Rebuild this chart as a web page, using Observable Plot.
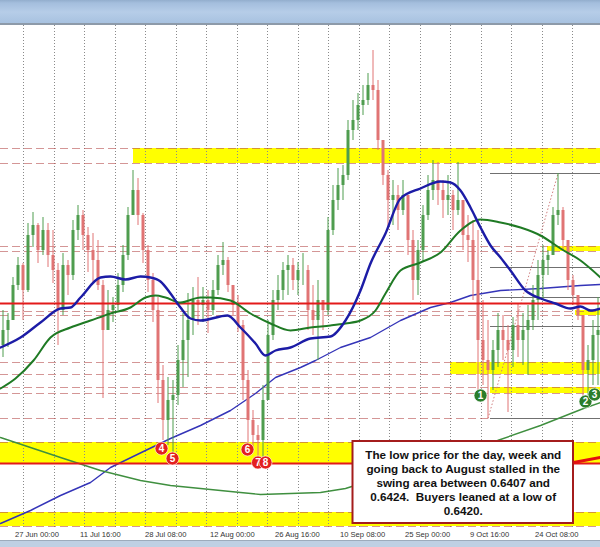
<!DOCTYPE html>
<html><head><meta charset="utf-8">
<script src="https://cdn.jsdelivr.net/npm/d3@7"></script>
<script src="https://cdn.jsdelivr.net/npm/@observablehq/plot@0.6"></script>
<style>
html,body{margin:0;padding:0;background:#fff;}
#top{height:23px;background-color:#a9c3df;background-image:linear-gradient(#93aecd 0,#a4bedd 3px,#b6cde8 12px,#a8c2e0 23px);border-bottom:2px solid #8d9aa9;}
#bot{height:6px;background:#bfd0e3;border-top:1px solid #9dabbb;}
#chart svg{display:block;}
</style></head><body>
<div id="top"></div>
<div id="chart"></div>
<div id="bot"></div>
<script>
// ---- price bars (4H) ----
const firstOpen = 0.64450;
const high = [0.64625,0.64610,0.64790,0.64890,0.64860,0.65060,0.65115,0.65060,0.65090,0.65060,
0.65025,0.64860,0.64910,0.64875,0.65075,0.65150,0.65125,0.65040,0.65010,0.64975,
0.64775,0.64725,0.64690,0.64810,0.64950,0.65140,0.65325,0.65285,0.65110,0.64950,
0.64810,0.64690,0.64350,0.64290,0.64275,0.64450,0.64610,0.64710,0.64740,0.64790,
0.64740,0.64725,0.64775,0.64900,0.64965,0.64890,0.64750,0.64700,0.64575,0.64325,
0.64125,0.64050,0.64250,0.64575,0.64725,0.64800,0.64865,0.64900,0.64885,0.64865,
0.64910,0.64850,0.64750,0.64775,0.64675,0.65090,0.65250,0.65335,0.65350,0.65575,
0.65675,0.65710,0.65750,0.65810,0.65925,0.65775,0.65475,0.65325,0.65275,0.65250,
0.65275,0.65175,0.65025,0.64975,0.65150,0.65300,0.65375,0.65365,0.65275,0.65300,
0.65225,0.65365,0.65175,0.65100,0.65075,0.65025,0.64675,0.64575,0.64475,0.64610,
0.64600,0.64550,0.64590,0.64660,0.64610,0.64650,0.64750,0.64875,0.64950,0.64925,
0.65140,0.65310,0.65140,0.64950,0.64800,0.64700,0.64600,0.64450,0.64575,0.64690];
const low = [0.64390,0.64440,0.64575,0.64725,0.64575,0.64715,0.64940,0.64860,0.64900,0.64840,
0.64760,0.64450,0.64600,0.64700,0.64775,0.64975,0.64925,0.64815,0.64765,0.64725,
0.64185,0.64525,0.64565,0.64625,0.64715,0.64875,0.65125,0.65050,0.64860,0.64715,
0.64565,0.64160,0.63975,0.63950,0.63895,0.64150,0.64240,0.64290,0.64500,0.64550,
0.64565,0.64510,0.64600,0.64700,0.64800,0.64715,0.64600,0.64515,0.64175,0.63960,
0.63925,0.63885,0.63875,0.64225,0.64475,0.64625,0.64675,0.64700,0.64725,0.64700,
0.64750,0.64525,0.64500,0.64375,0.64525,0.64600,0.65000,0.65125,0.65175,0.65275,
0.65475,0.65525,0.65600,0.65650,0.65675,0.65425,0.65250,0.65025,0.65050,0.65025,
0.65100,0.64900,0.64675,0.64700,0.64865,0.65075,0.65175,0.65150,0.65085,0.65100,
0.65025,0.65100,0.64925,0.64865,0.64675,0.64200,0.64250,0.64085,0.64225,0.64340,
0.64375,0.64115,0.64340,0.64390,0.64350,0.64300,0.64525,0.64575,0.64675,0.64800,
0.64915,0.65050,0.64925,0.64725,0.64650,0.64575,0.64185,0.64200,0.64250,0.64250];
const close = [0.64525,0.64575,0.64750,0.64850,0.64725,0.65000,0.65050,0.64925,0.65025,0.64900,
0.64825,0.64625,0.64850,0.64800,0.65025,0.65100,0.65000,0.64925,0.64875,0.64750,
0.64525,0.64625,0.64650,0.64750,0.64900,0.65100,0.65225,0.65100,0.64925,0.64775,
0.64625,0.64275,0.64075,0.64175,0.64200,0.64375,0.64475,0.64575,0.64675,0.64650,
0.64675,0.64625,0.64725,0.64850,0.64875,0.64750,0.64650,0.64550,0.64275,0.64075,
0.64000,0.63975,0.64175,0.64500,0.64675,0.64725,0.64825,0.64850,0.64775,0.64825,
0.64825,0.64625,0.64575,0.64675,0.64625,0.65025,0.65175,0.65250,0.65300,0.65525,
0.65575,0.65650,0.65675,0.65750,0.65725,0.65475,0.65300,0.65175,0.65200,0.65125,
0.65200,0.64975,0.64775,0.64925,0.65100,0.65225,0.65275,0.65225,0.65175,0.65200,
0.65125,0.65175,0.65000,0.64975,0.64775,0.64475,0.64375,0.64325,0.64425,0.64525,
0.64475,0.64425,0.64550,0.64475,0.64525,0.64575,0.64675,0.64800,0.64875,0.64900,
0.65100,0.65125,0.64975,0.64775,0.64700,0.64600,0.64325,0.64375,0.64500,0.64525];

// ---- time axis ----
const tickBars = [3,16,29,42,55,68,81,94,107];
const tickLabels = ["27 Jun 00:00","11 Jul 16:00","28 Jul 08:00","12 Aug 00:00","26 Aug 16:00","10 Sep 08:00","25 Sep 00:00","9 Oct 16:00","24 Oct 08:00"];
const gridBars = [4.1,10.3,16.3,22.5,28.5,34.7,40.7,46.9,52.9,59.1,65.1,71.3,77.3,83.5,89.5,95.7,101.7,107.9,113.9];

// ---- moving averages [bar, price] ----
const maFast = [[-0.5,0.64440],[3.5,0.64490],[7.5,0.64565],[11.5,0.64635],[13.5,0.64640],[15.5,0.64690],[19.5,0.64790],[21.5,0.64795],[24.5,0.64780],[27.5,0.64795],[29.5,0.64790],[31.5,0.64770],[33.5,0.64710],[35.5,0.64640],[37.5,0.64585],[39.5,0.64575],[44.9,0.64600],[47.5,0.64540],[50.5,0.64460],[52.5,0.64400],[54.5,0.64425],[57.5,0.64440],[61.5,0.64485],[65.5,0.64495],[68.5,0.64575],[71.5,0.64725],[73.5,0.64860],[76.5,0.65010],[79.5,0.65185],[83.5,0.65235],[87.5,0.65270],[89.5,0.65265],[91.5,0.65225],[93.5,0.65140],[95.5,0.65040],[97.5,0.64950],[99.5,0.64890],[101.5,0.64825],[104.5,0.64725],[107.5,0.64685],[110.5,0.64660],[113.5,0.64635],[115.5,0.64645],[117.5,0.64625],[119.5,0.64635]];
const maMid = [[-0.5,0.64235],[2.5,0.64285],[6.1,0.64375],[9.5,0.64490],[13.5,0.64540],[17.5,0.64575],[21.5,0.64610],[25.5,0.64640],[28.5,0.64690],[30.5,0.64700],[32.5,0.64690],[35.5,0.64665],[39.5,0.64690],[41.5,0.64690],[45.5,0.64675],[49.5,0.64610],[53.5,0.64560],[57.5,0.64525],[61.5,0.64540],[65.5,0.64550],[68.5,0.64560],[71.5,0.64575],[74.5,0.64625],[76.5,0.64710],[79.5,0.64825],[83.5,0.64865],[87.5,0.64915],[91.5,0.65025],[95.5,0.65080],[99.5,0.65065],[103.5,0.65040],[107.5,0.65000],[111.5,0.64935],[115.5,0.64875],[119.5,0.64790]];
const maSlowGreen = [[-0.5,0.63990],[5.5,0.63940],[11.5,0.63890],[19.5,0.63825],[27.5,0.63775],[33.5,0.63750],[39.5,0.63735],[47.5,0.63715],[51.5,0.63705],[57.5,0.63710],[63.5,0.63715],[68.5,0.63735],[98.9,0.63975],[107.5,0.64050],[116.1,0.64135],[119.5,0.64165]];
const maSlowBlue = [[-0.5,0.63560],[5.5,0.63625],[11.5,0.63700],[17.5,0.63765],[21.5,0.63840],[28.5,0.63925],[33.5,0.63985],[39.5,0.64050],[45.5,0.64125],[50.5,0.64210],[54.5,0.64290],[59.5,0.64340],[62.5,0.64375],[67.5,0.64440],[73.5,0.64490],[79.5,0.64575],[85.5,0.64640],[89.5,0.64665],[93.5,0.64700],[99.5,0.64725],[107.5,0.64735],[115.5,0.64750],[119.5,0.64755]];

// ---- drawn levels ----
const dashedLevels = [0.65435,0.65360,0.64945,0.64920,0.64620,0.64600,0.64365,0.64305,0.64240,0.64210,0.64085,0.63965,0.63615,0.63545];
const redLevels = [0.64660,0.63860];
const bandLo = [0.65360,0.64920,0.64600,0.64305,0.64210,0.63860,0.63545];
const bandHi = [0.65435,0.64945,0.64625,0.64365,0.64240,0.63965,0.63615];
const bandFrom = [26.1,108.9,114.5,89.5,97.5,-0.5,-0.5];
const fibLevels = [0.65310,0.64840,0.64690,0.64545,0.64085];
const fibLowBar = 97, fibHighBar = 111;

// ---- numbered swing lows ----
const markLabels = ["4","5","6","7","8","1","2","3"];
const markBars = [31.7,33.9,48.9,51.0,52.5,95.5,116.5,118.3];
const markPrices = [0.63935,0.63885,0.63930,0.63865,0.63865,0.64200,0.64170,0.64205];
const markKinds = ["red","red","red","red","red","green","green","green"];

const noteText = "The low price for the day, week and\ngoing back to August stalled in the\nswing area between 0.6407 and\n0.6424.  Buyers leaned at a low of\n0.6420.";

// ---- build tables ----
const lastBar = 119.5;
const bars = close.map((c, i) => {
  const o = i === 0 ? firstOpen : close[i - 1];
  return {i, open: o, close: c, high: Math.max(high[i], o, c), low: Math.min(low[i], o, c),
          color: c >= o ? "#4f9d4f" : "#e07474"};
});
const bands = bandLo.map((lo, k) => ({lo, hi: bandHi[k], from: bandFrom[k]}));
const fib = fibLevels.map(v => ({v}));
const marks = markLabels.map((t, k) => ({t, x: markBars[k], y: markPrices[k],
  fill: markKinds[k] === "red" ? "#e3201f" : "#2b7d2b"}));
const note = {x1: 70, x2: 114.1, y1: 0.63560, y2: 0.63970};
const labelOf = new Map(tickBars.map((b, k) => [b, tickLabels[k]]));

// each numbered circle is drawn with its own label, so a later circle covers an earlier one
const markLayers = marks.flatMap(m => [
  Plot.dot([m], {x: "x", y: "y", r: 6.5, fill: "fill", stroke: "white", strokeWidth: 0.6}),
  Plot.text([m], {x: "x", y: "y", text: "t", fill: "white", fontSize: 10, fontWeight: "bold"})
]);

const chart = Plot.plot({
  width: 600, height: 515,
  marginTop: 0, marginBottom: 13, marginLeft: 0, marginRight: 0,
  x: {domain: [-0.5, lastBar]},
  y: {domain: [0.6354, 0.6605], axis: null},
  color: {type: "identity"},
  style: {background: "white", fontFamily: "'Liberation Sans', Arial, sans-serif"},
  marks: [
    Plot.rect(bands, {x1: "from", x2: () => lastBar, y1: "lo", y2: "hi", fill: "#ffff00"}),
    Plot.ruleX(gridBars, {stroke: "#8a8a8a", strokeDasharray: "1,2", strokeWidth: 1}),
    Plot.ruleY(dashedLevels, {stroke: "#b85050", strokeOpacity: 0.6, strokeDasharray: "8,4", strokeWidth: 1}),
    Plot.ruleY(fib, {y: "v", x1: () => fibLowBar + 0.5, x2: () => lastBar, stroke: "#707070", strokeWidth: 1}),
    Plot.link([{a: fibLowBar, b: fibHighBar}], {x1: "a", y1: () => low[fibLowBar], x2: "b", y2: () => high[fibHighBar], stroke: "#d08080", strokeDasharray: "1.5,2", strokeWidth: 1}),
    Plot.line(maSlowBlue, {x: d => d[0], y: d => d[1], stroke: "#3434b8", strokeWidth: 1.4}),
    Plot.line(maSlowGreen, {x: d => d[0], y: d => d[1], stroke: "#3f8f3f", strokeWidth: 1.4}),
    Plot.ruleX(bars, {x: "i", y1: "low", y2: "high", stroke: "color", strokeWidth: 1}),
    Plot.ruleX(bars, {x: "i", y1: "open", y2: "close", stroke: "color", strokeWidth: 3}),
    Plot.ruleY(redLevels, {stroke: "#e31a1a", strokeWidth: 2}),
    Plot.line(maMid, {x: d => d[0], y: d => d[1], stroke: "#1f7a24", strokeWidth: 2, curve: "monotone-x"}),
    Plot.line(maFast, {x: d => d[0], y: d => d[1], stroke: "#1c1ca6", strokeWidth: 2.4, curve: "monotone-x"}),
    ...markLayers,
    Plot.rect([note], {x1: "x1", x2: "x2", y1: "y1", y2: "y2", fill: "white", stroke: "#a41c1c", strokeWidth: 2}),
    Plot.text([note], {x: d => (d.x1 + d.x2) / 2, y: d => (d.y1 + d.y2) / 2, text: () => noteText,
      fontSize: 11.7, fontWeight: "bold", fill: "#111", lineHeight: 1.2, fontFamily: "'Liberation Sans', Arial, sans-serif"}),
    Plot.link([{a: note.x2, b: lastBar}], {x1: "a", x2: "b", y1: () => 0.63865, y2: () => 0.63890, stroke: "#e31010", strokeWidth: 3}),
    Plot.axisX(tickBars, {tickFormat: d => labelOf.get(d), tickSize: 0, tickPadding: 4, textAnchor: "start", dx: -3, fontSize: 7.6, fill: "#333", label: null})
  ]
});
document.getElementById("chart").appendChild(chart);
</script>
</body></html>
